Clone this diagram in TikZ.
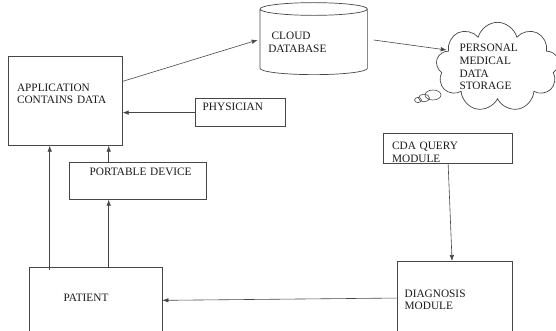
\documentclass[tikz,border=0pt]{standalone}
\usepackage{fontspec}
\setmainfont{Liberation Serif}
\usepackage{xcolor}
\usepackage{tikz}
\usetikzlibrary{arrows.meta,shapes.geometric,shapes.symbols}
\definecolor{framegray}{RGB}{70,70,70}
\definecolor{inkgray}{RGB}{25,25,25}

\begin{document}
\begin{tikzpicture}[x=1pt, y=-1pt,
  every node/.style={font=\fontsize{11.3}{12.8}\selectfont, text=inkgray},
  block/.style={draw=framegray, line width=0.7pt, anchor=north west, inner xsep=0pt, text height=7.5pt, align=left},
  indent/.style={execute at begin node={\leftskip=#1\relax}},
  arr/.style={draw=framegray, line width=0.6pt, -{Latex[length=6pt,width=4.5pt]}}]
\path[use as bounding box, clip] (0,0) rectangle (556,331);

\node[block, indent=8.4pt, text width=113.7pt, inner ysep=27.2pt, text depth=27.1pt] (app) at (8.3,56) {APPLICATION\\CONTAINS DATA};
\node[block, indent=7.3pt, text width=90pt, inner ysep=4.5pt, text depth=11pt] (phys) at (195,98.5) {PHYSICIAN};
\node[block, indent=20.3pt, text width=136.7pt, inner ysep=5.7pt, text depth=17.8pt] (port) at (69,162.3) {PORTABLE DEVICE};
\node[block, indent=8.4pt, text width=129pt, inner ysep=8.2pt, text depth=6.3pt] (cda) at (383.3,133.3) {CDA QUERY\\MODULE};
\node[block, indent=7.6pt, text width=115pt, inner ysep=28.2pt, text depth=9.5pt] (diag) at (396.7,261) {DIAGNOSIS\\MODULE};
\node[block, indent=34.3pt, text width=132.7pt, inner ysep=25.9pt, text depth=6.1pt] (pat) at (29,267.3) {PATIENT};

\node[cylinder, shape border rotate=90, aspect=0.14, draw=framegray, line width=0.7pt, minimum width=107.3pt, minimum height=72pt, text width=90.8pt, align=left, inner sep=0pt] (db) at (313.7,42) {\hspace*{3.4pt}CLOUD\\DATABASE};
\node[cloud, cloud puffs=9, cloud ignores aspect, draw=framegray, line width=0.7pt, minimum width=123pt, minimum height=82pt, text width=76pt, align=left, inner sep=0pt] (pmds) at (497.5,67) {PERSONAL\\MEDICAL\\DATA\\STORAGE};
\draw[framegray, line width=0.6pt] (433,95) ellipse [x radius=8, y radius=5];
\draw[framegray, line width=0.6pt] (424,98) ellipse [x radius=5.5, y radius=3.8];
\draw[framegray, line width=0.6pt] (418,100) ellipse [x radius=3.5, y radius=2.6];

\draw[arr] ([yshift=19.5pt]app.east) -- ([xshift=-2pt,yshift=2pt]db.west);
\draw[arr] ([xshift=6pt,yshift=2pt]db.east) -- ([xshift=-50.8pt,yshift=17pt]pmds.center);
\draw[arr] (phys.west) -- (phys.west -| app.east);
\draw[arr] ([xshift=-29pt]port.north) -- ([xshift=-29pt]port.north |- app.south);
\draw[arr] ([xshift=-29pt]port.north |- pat.north) -- ([xshift=-29pt]port.south);
\draw[arr] ([xshift=-46pt,yshift=-3pt]pat.north) -- ([xshift=-46pt]pat.north |- app.south);
\draw[arr] (cda.south) -- ([xshift=-2.5pt]diag.north);
\draw[arr] (diag.west) -- (pat.east);
\end{tikzpicture}
\end{document}
